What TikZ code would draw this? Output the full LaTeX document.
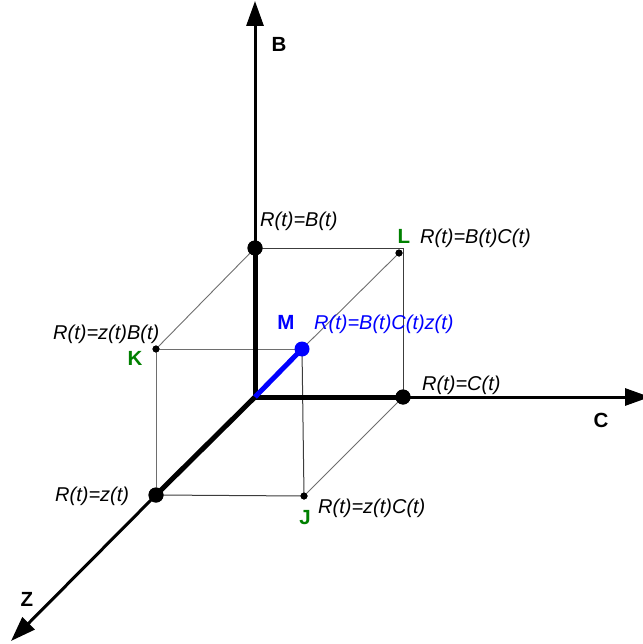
\documentclass[tikz,border=0pt]{standalone}
\usepackage{fontspec}
\setmainfont{Liberation Sans}
\usetikzlibrary{arrows.meta}
\definecolor{lblgreen}{RGB}{0,128,0}
\definecolor{cubegray}{RGB}{60,60,60}
\definecolor{diaggray}{RGB}{110,110,110}
\begin{document}
\begin{tikzpicture}[x=1pt,y=-1pt,
  bigdot/.style={circle,fill=black,inner sep=0pt,minimum size=15pt},
  smalldot/.style={circle,fill=black,inner sep=0pt,minimum size=7pt},
  bluedot/.style={circle,fill=blue,inner sep=0pt,minimum size=15pt},
  thickax/.style={line width=5pt,line join=miter},
  thinax/.style={line width=3pt,-{Triangle[length=25pt,width=17pt]}},
  cubeline/.style={line width=1pt,draw=cubegray},
  diagline/.style={line width=0.9pt,draw=diaggray},
  lbl/.style={font=\fontsize{20}{24}\selectfont\itshape,inner sep=0pt,anchor=base west},
  ptname/.style={font=\fontsize{20.5}{24}\selectfont\bfseries,inner sep=0pt,text=lblgreen},
  axname/.style={font=\fontsize{20.5}{24}\selectfont\bfseries,inner sep=0pt}]
\useasboundingbox (0,0) rectangle (642,644);
% points
\coordinate (O) at (255,397);
\coordinate (Bend) at (255,1);
\coordinate (Cend) at (650,397);
\coordinate (Zend) at (11,641);
\coordinate (corner) at (403,248);
\node[bigdot] (Bp) at (255,248) {};
\node[bigdot] (Cp) at (403,397) {};
\node[bigdot] (Zp) at (156,495) {};
\node[smalldot] (L) at (399,253) {};
\node[smalldot] (K) at (156,349) {};
\node[smalldot] (J) at (304,496) {};
\coordinate (Mc) at (302,349);
% cube edges
\draw[cubeline] (Bp.center) -- (corner) -- (Cp.center);
\draw[diagline] (Bp.center) -- (K.center);
\draw[diagline] (K.center) -- (Mc);
\draw[diagline] (K.center) -- (Zp.center);
\draw[cubeline] (Zp.center) -- (J.center);
\draw[diagline] (J.center) -- (Cp.center);
\draw[cubeline] (Mc) -- (J.center);
\draw[diagline] (Mc) -- (L.center);
% axes
\draw[thinax] (Bp.center) -- (Bend);
\draw[thinax] (Cp.center) -- (Cend);
\draw[thinax] (Zp.center) -- (Zend);
\draw[thickax] (Bp.center) -- (O) -- (Cp.center);
\draw[thickax] (O) -- (Zp.center);
\draw[line width=5pt,blue] (O) -- (Mc);
% dots on top
\node[bigdot] at (Bp) {};
\node[bigdot] at (Cp) {};
\node[bigdot] at (Zp) {};
\node[bluedot] (M) at (Mc) {};
\node[smalldot] at (L) {};
\node[smalldot] at (K) {};
\node[smalldot] at (J) {};
% labels
\node[lbl] (tB) at (260,226) {R(t)=B(t)};
\node[lbl] (tL) at (420,243) {R(t)=B(t)C(t)};
\node[lbl] (tK) at (53,339) {R(t)=z(t)B(t)};
\node[lbl] (tC) at (422,390) {R(t)=C(t)};
\node[lbl] (tZ) at (55,501) {R(t)=z(t)};
\node[lbl] (tJ) at (318,513) {R(t)=z(t)C(t)};
\node[lbl,text=blue] (tM) at (314,329) {R(t)=B(t)C(t)z(t)};
\node[ptname] (nL) at (404,236) {L};
\node[ptname] (nK) at (135,358) {K};
\node[ptname] (nJ) at (305,518) {J};
\node[ptname,text=blue] (nM) at (286,322) {M};
\node[axname] (nB) at (279,44) {B};
\node[axname] (nC) at (601,420) {C};
\node[axname] (nZ) at (27,599) {Z};
\end{tikzpicture}
\end{document}
